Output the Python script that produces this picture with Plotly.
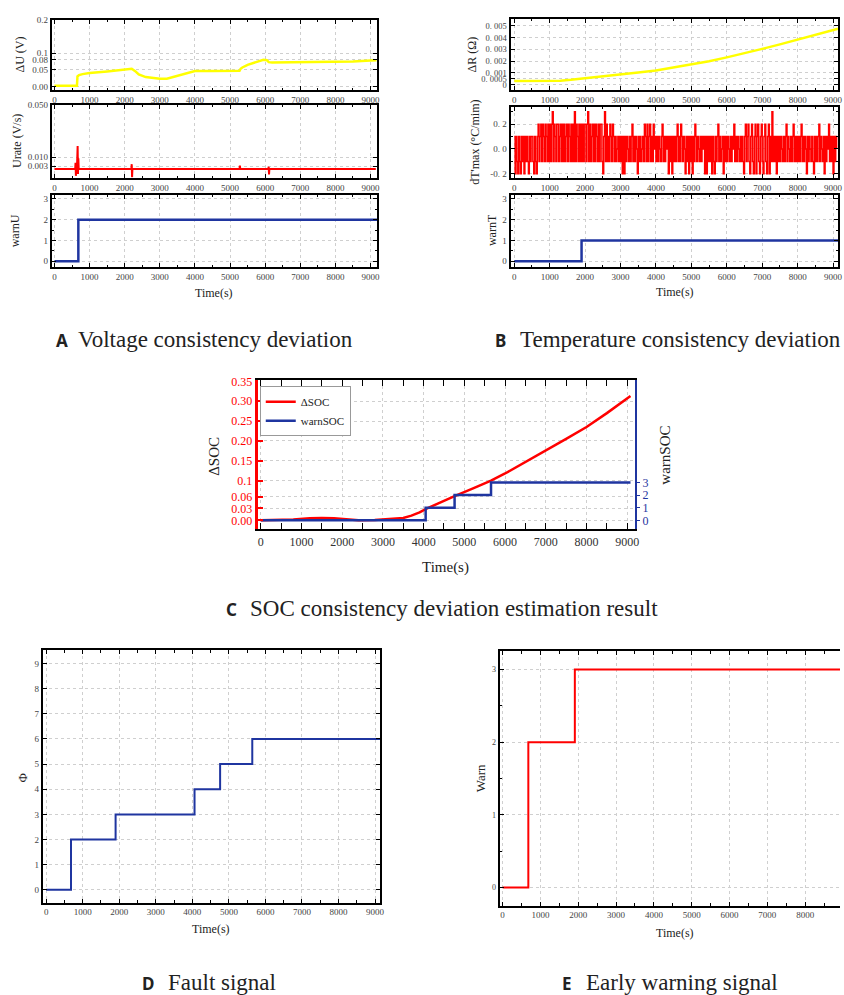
import plotly.graph_objects as go

W, H = 844, 995
SERIF = "Liberation Serif"
YEL = "#ffff00"
RED = "#ff0000"
BLUE = "#1f35a0"

# ---------------- DATA ----------------
# A: voltage deviation
du_t = [0, 640, 655, 700, 800, 1000, 1500, 2000, 2200, 2300, 2400, 2600, 3000, 3200, 3500, 3800,
        4000, 4500, 5000, 5270, 5300, 5350, 5500, 5800, 5950, 6050, 6100, 6200, 7000, 8000, 8500, 9000, 9170]
du_v = [0.002, 0.002, 0.030, 0.034, 0.037, 0.040, 0.045, 0.051, 0.053, 0.046, 0.036, 0.028, 0.023, 0.023, 0.031, 0.040,
        0.046, 0.046, 0.046, 0.047, 0.053, 0.057, 0.065, 0.076, 0.080, 0.079, 0.073, 0.072, 0.073, 0.074, 0.075, 0.078, 0.079]

ur_t = [0, 590, 600, 610, 620, 640, 660, 670, 680, 690, 700, 2190, 2200, 2210, 2220,
        5270, 5280, 5290, 6090, 6100, 6110, 6120, 9150]
ur_v = [0.0008, 0.0008, 0.0055, -0.0045, 0.0008, 0.0008, 0.0185, -0.003, 0.009, 0.0008, 0.0008,
        0.0008, 0.0045, -0.0055, 0.0008,
        0.0008, 0.0035, 0.0008, 0.0008, 0.0025, -0.0035, 0.0008, 0.0008]

warnU_t = [0, 680, 9190]
warnU_v = [0, 2, 2]

# B: temperature deviation
dr_t = [0, 500, 1000, 1300, 1600, 2000, 2500, 3000, 3500, 4000, 4500, 5000, 5500, 6000, 6500,
        7000, 7500, 8000, 8500, 9000, 9140]
dr_v = [0.00030, 0.00029, 0.00030, 0.00033, 0.00040, 0.00052, 0.00068, 0.00085, 0.00102, 0.00120, 0.00145, 0.00170,
        0.00198, 0.00232, 0.00266, 0.00304, 0.00343, 0.00383, 0.00425, 0.00466, 0.00476]

DT_STEP = 25  # sampling interval (s)
dT_tenths = [
    1, -2, 1, -1, -2, 1, -1, -2, 1, -1, 1, -2, 1, -1, 1, -1, -2, 1, -1, 1,
    1, -1, -2, 1, -1, -2, 1, 2, -1, 1, 2, -1, 2, 1, -1, 2, 1, -1, 2, -1,
    2, -1, 2, 3, -1, 2, 1, -1, 2, 2, -1, 1, 2, -1, 2, -1, 2, -1, 1, 2,
    -1, 2, 1, -1, 2, -1, 2, -1, 3, -1, 2, 1, -1, 2, -1, 2, -1, 2, -1, 2,
    2, -1, 2, 3, -1, 2, -1, 1, 2, -1, 2, -1, 2, 1, -1, 2, -1, 2, 2, -1,
    -2, 1, 3, -1, 2, -1, 1, -1, 2, 1, -1, 2, 1, -1, 1, -1, 0, 1, -1, 1,
    -1, 1, -2, 1, -2, 1, -1, 1, 0, -1, 1, -1, 1, 2, -1, 1, -1, 1, 0, -2,
    1, -1, 1, -1, 0, 1, -1, 2, 1, -1, 2, -1, 1, 2, -1, 1, -1, 2, 0, 1,
    -1, 1, -1, 1, 0, -1, 1, 2, -1, 1, -1, 1, 0, 1, -2, 1, -1, 1, -2, 1,
    -1, 1, -1, 1, 2, -1, 1, -1, 2, 1, -1, 1, 0, -2, 1, -1, 1, -2, 1, -1,
    1, -2, 1, -1, 2, 1, -1, 1, 0, -1, 1, -1, 1, 0, 1, -2, 1, -2, 1, -1,
    1, -1, 1, -2, 1, -1, -2, 1, -1, 1, 2, -1, 1, -1, 0, 1, -2, 1, -1, 1,
    -1, 1, 0, -1, 1, -1, 1, 0, 2, -1, 1, -1, 1, 0, -1, 1, -1, 1, -1, -2,
    1, 2, -1, 1, 2, -1, -2, 1, 2, -1, -2, 1, 2, -2, 1, 2, -1, -2, 1, 2,
    -1, -2, 1, 2, -1, -2, 1, 2, -2, 1, -1, 3, -1, 1, -1, 1, -2, 1, -1, 1,
    -1, 1, 0, -1, 1, -1, 1, 2, -1, 1, 0, -1, 1, -1, 1, 2, -1, 1, -1, 1,
    -1, 1, -1, 1, 2, -1, 1, -1, 1, 0, -2, 1, -1, 1, 0, -1, 1, -1, -2, 1,
    -1, 1, -1, 1, 2, -1, 1, 0, -1, 1, -2, 1, -1, 1, 0, 2, -1, 1, -1, 1,
    -2, 1, -1, 1, 0,
]
dT_t = [i * DT_STEP for i in range(len(dT_tenths))]
dT_v = [v / 10 for v in dT_tenths]

warnT_t = [0, 1900, 9140]
warnT_v = [0, 1, 1]

# C: SOC deviation
soc_t = [0, 500, 800, 1200, 1500, 1800, 2100, 2400, 2800, 3200, 3500, 3700, 3900, 4100, 4400, 4760,
         5200, 5655, 6000, 6600, 7000, 7500, 8000, 8500, 9080]
soc_v = [0, 0.0005, 0.002, 0.005, 0.006, 0.005, 0.002, 0.0005, 0.001, 0.003, 0.006, 0.012, 0.02, 0.031, 0.045, 0.061,
         0.08, 0.1, 0.118, 0.152, 0.175, 0.205, 0.235, 0.27, 0.313]
wsoc_t = [0, 4050, 4760, 5655, 9080]
wsoc_v = [0, 1, 2, 3, 3]

# D: fault signal
phi_t = [0, 680, 1900, 4060, 4760, 5640, 9140]
phi_v = [0, 2, 3, 4, 5, 6, 6]

# E: early warning signal
warn_t = [0, 680, 1910, 8921]
warn_v = [0, 2, 3, 3]

# tick labels
A1_ticks = [0, 0.05, 0.08, 0.1, 0.2]
A1_text = ["0.00", "0.05", "0.08", "0.1", "0.2"]
A2_ticks = [0.003, 0.010, 0.050]
A2_text = ["0.003", "0.010", "0.050"]
B1_ticks = [0, 0.0005, 0.001, 0.002, 0.003, 0.004, 0.005]
B1_text = ["0", "0. 0005", "0. 001", "0. 002", "0. 003", "0. 004", "0. 005"]
B2_ticks = [-0.2, 0, 0.2]
B2_text = ["-0. 2", "0. 0", "0. 2"]
C_ticks = [0, 0.03, 0.06, 0.1, 0.15, 0.20, 0.25, 0.30, 0.35]
C_text = ["0.00", "0.03", "0.06", "0.1", "0.15", "0.20", "0.25", "0.30", "0.35"]

# ---------------- LAYOUT HELPERS ----------------
def dx(a, b):
    return [a / W, b / W]

def dy(top, bot):
    return [1 - bot / H, 1 - top / H]

GRID = "#cfcfcf"

def xax(dom, anchor, rng, fs=9, fc="#444", tl=4):
    return dict(domain=dom, anchor=anchor, range=rng, tickmode="linear", tick0=0, dtick=1000,
                ticks="inside", ticklen=tl, tickwidth=1.3, tickcolor="black",
                showline=True, linewidth=2, linecolor="black", mirror="allticks",
                showgrid=True, gridcolor=GRID, griddash="dot", gridwidth=1, zeroline=False,
                minor=dict(ticks="inside", ticklen=tl * 0.55, tickwidth=1, tickcolor="black",
                           tick0=0, dtick=500, showgrid=False),
                tickfont=dict(family=SERIF, size=fs, color=fc), fixedrange=True)

def yax(dom, anchor, rng, vals, text=None, fs=9, fc="#444", minor=None, mirror="allticks"):
    d = dict(domain=dom, anchor=anchor, range=rng, tickmode="array", tickvals=vals,
             ticks="inside", ticklen=4, tickwidth=1.3, tickcolor="black",
             showline=True, linewidth=2, linecolor="black", mirror=mirror,
             showgrid=True, gridcolor=GRID, griddash="dot", gridwidth=1, zeroline=False,
             tickfont=dict(family=SERIF, size=fs, color=fc), fixedrange=True)
    if text is not None:
        d["ticktext"] = text
    if minor is not None:
        d["minor"] = dict(ticks="inside", ticklen=2.2, tickwidth=1, tickcolor="black",
                          tick0=0, dtick=minor, showgrid=False)
    return d

fig = go.Figure()

def line(x, y, xa, ya, color, w, shape="linear", name=None, legend=False):
    fig.add_trace(go.Scatter(x=x, y=y, xaxis=xa, yaxis=ya, mode="lines", name=name,
                             line=dict(color=color, width=w, shape=shape),
                             showlegend=legend, hoverinfo="skip"))

line(du_t, du_v, "x", "y", YEL, 2.5)
line(ur_t, ur_v, "x2", "y2", RED, 2)
line(warnU_t, warnU_v, "x3", "y3", BLUE, 2.5, "hv")
line(dr_t, dr_v, "x4", "y4", YEL, 2.5)
line(dT_t, dT_v, "x5", "y5", RED, 1.5, "hv")
line(warnT_t, warnT_v, "x6", "y6", BLUE, 2.5, "hv")
line(soc_t, soc_v, "x7", "y7", RED, 2.5, name="ΔSOC", legend=True)
line(wsoc_t, wsoc_v, "x7", "y10", BLUE, 2.5, "hv", name="warnSOC", legend=True)
line(phi_t, phi_v, "x8", "y8", BLUE, 2, "hv")
line(warn_t, warn_v, "x9", "y9", RED, 2, "hv")

XA = [-77, 9190]
XB = [-104, 9140]

layout = dict(
    width=W, height=H, margin=dict(l=0, r=0, t=0, b=0),
    paper_bgcolor="white", plot_bgcolor="white",
    font=dict(family=SERIF, color="#222"),
    xaxis=xax(dx(52, 379), "y", XA),
    yaxis=yax(dy(14, 85), "x", [-0.012, 0.2], A1_ticks, A1_text),
    xaxis2=xax(dx(52, 379), "y2", XA),
    yaxis2=yax(dy(100, 173), "x2", [-0.006, 0.05], A2_ticks, A2_text),
    xaxis3=xax(dx(52, 379), "y3", XA),
    yaxis3=yax(dy(190, 263), "x3", [-0.28, 3.2], [0, 1, 2, 3], minor=0.5),
    xaxis4=xax(dx(513, 842), "y4", XB),
    yaxis4=yax(dy(13, 85), "x4", [-0.0005, 0.0056], B1_ticks, B1_text, fs=8.5),
    xaxis5=xax(dx(513, 842), "y5", XB),
    yaxis5=yax(dy(102, 173), "x5", [-0.232, 0.336], B2_ticks, B2_text, minor=0.1),
    xaxis6=xax(dx(513, 842), "y6", XB),
    yaxis6=yax(dy(190, 263), "x6", [-0.28, 3.2], [0, 1, 2, 3], minor=0.5),
    xaxis7=xax(dx(259, 638), "y7", [-73, 9190], fs=12, fc="#333", tl=6),
    yaxis7=dict(domain=dy(377, 527), anchor="x7", range=[-0.0225, 0.3525], tickmode="array",
                tickvals=C_ticks, ticktext=C_text, ticks="inside", ticklen=5, tickwidth=1.5,
                tickcolor=RED, showline=True, linewidth=3, linecolor=RED, mirror=False,
                showgrid=True, gridcolor=GRID, griddash="dot", zeroline=False,
                tickfont=dict(family=SERIF, size=12, color=RED), fixedrange=True),
    yaxis10=dict(overlaying="y7", side="right", anchor="x7", range=[-0.71, 11.1],
                 tickmode="array", tickvals=[0, 1, 2, 3], ticks="outside", ticklen=3,
                 tickcolor=BLUE, showline=True, linewidth=2, linecolor=BLUE,
                 showgrid=False, zeroline=False,
                 tickfont=dict(family=SERIF, size=12, color=BLUE), fixedrange=True),
    xaxis8=xax(dx(43, 382), "y8", [-92, 9140]),
    yaxis8=yax(dy(649, 903), "x8", [-0.51, 9.52], list(range(10))),
    xaxis9=xax(dx(502, 844), "y9", [-79, 8921]),
    yaxis9=yax(dy(650, 906), "x9", [-0.25, 3.25], [0, 1, 2, 3], fs=8, minor=0.5, mirror=False),
    legend=dict(x=261 / W, y=1 - 383 / H, xanchor="left", yanchor="top",
                bgcolor="white", bordercolor="#999", borderwidth=1, itemwidth=30,
                font=dict(family=SERIF, size=11, color="#222"), tracegroupgap=0),
)
fig.update_layout(**layout)

ann = []

def txt(s, x, y, size, angle=0, color="#222", family=SERIF, xanchor="center"):
    ann.append(dict(text=s, x=x / W, y=1 - y / H, xref="paper", yref="paper", showarrow=False,
                    textangle=angle, xanchor=xanchor, yanchor="middle",
                    font=dict(family=family, size=size, color=color)))

# axis titles
txt("ΔU (V)", 20, 49, 12, -90)
txt("Urate (V/s)", 17, 136, 12, -90)
txt("warnU", 15, 226, 12, -90)
txt("Time(s)", 215, 289, 12)
txt("ΔR (Ω)", 474, 49, 12, -90)
txt("dT'max (°C/mim)", 477, 137, 12, -90)
txt("warnT", 495, 226, 12, -90)
txt("Time(s)", 678, 288, 12)
txt("ΔSOC", 215, 453, 15, -90)
txt("warnSOC", 668, 452, 15, -90)
txt("Time(s)", 448, 565, 15)
txt("Φ", 23, 777, 13, -90)
txt("Time(s)", 212, 930, 12)
txt("Warn", 483, 778, 13, -90)
txt("Time(s)", 678, 934, 12)

# captions
for letter, lx, text, tx, y in [("A", 62, "Voltage consistency deviation", 76, 336),
                                ("B", 503, "Temperature consistency deviation", 520, 336),
                                ("C", 233, "SOC consistency deviation estimation result", 249, 607),
                                ("D", 149, "Fault signal", 167, 983),
                                ("E", 570, "Early warning signal", 587, 983)]:
    txt("<b>" + letter + "</b>", lx, y + 1, 17, family="Noto Sans")
    txt(text, tx, y, 23, xanchor="left")

fig.update_layout(annotations=ann)
fig.write_html("out.html")
